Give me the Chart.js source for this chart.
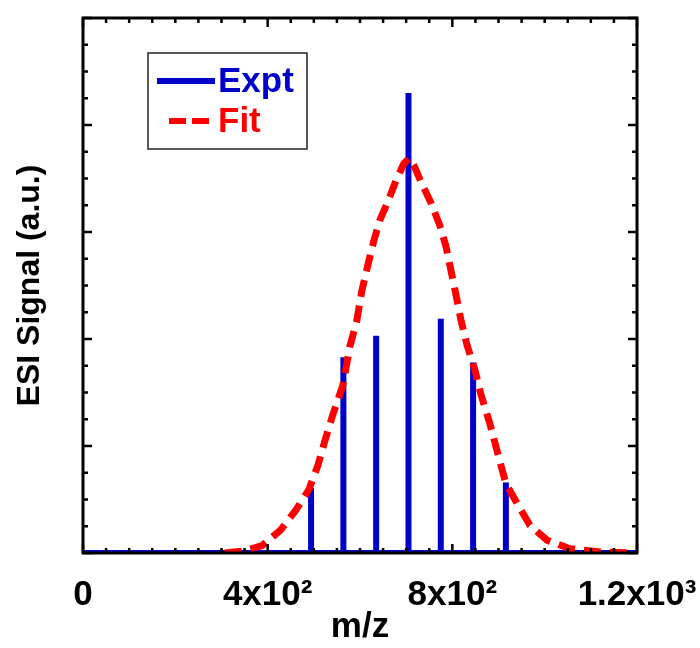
<!DOCTYPE html>
<html>
<head>
<meta charset="utf-8">
<script src="https://cdn.jsdelivr.net/npm/chart.js@4"></script>
<style>
  body { margin: 0; background: #fff; }
</style>
</head>
<body>
<canvas id="esiChart" width="700" height="648"></canvas>
<script>
// stems of the measured spectrum (m/z, signal)
const exptMz = [494, 564, 635, 705, 775, 845, 916];
const exptSignal = [0.61, 1.83, 2.03, 4.30, 2.19, 1.78, 0.66];

// fitted envelope
const fitMz = [307, 351, 388, 427, 461, 489, 509, 524, 541, 563, 578, 593, 604, 617, 630, 643, 661, 678, 695, 706,
               717, 734, 754, 773, 786, 797, 808, 819, 832, 849, 862, 882, 899, 916, 942, 968, 1005, 1055, 1120, 1200];
const fitSignal = [0, 0.02, 0.07, 0.21, 0.40, 0.59, 0.82, 1.05, 1.29, 1.57, 1.93, 2.17, 2.45, 2.69, 2.92, 3.11, 3.29, 3.48, 3.64, 3.69,
                   3.62, 3.45, 3.27, 3.06, 2.87, 2.64, 2.41, 2.17, 1.94, 1.71, 1.48, 1.20, 0.92, 0.65, 0.45, 0.26, 0.12, 0.04, 0.01, 0];

// axis range and ticks
const xMin = 0, xMax = 1200, xMinorStep = 50, xMajorStep = 400;
const yMin = 0, yMax = 5, yMinorStep = 0.25, yMajorStep = 1;
const xTickValues = [0, 400, 800, 1200];
const xTickLabels = ['0', '4x10\u00B2', '8x10\u00B2', '1.2x10\u00B3'];

const BLUE = '#0000cc';
const RED = '#ff0000';
const FONT = '"Liberation Sans", Arial, sans-serif';

// expt spectrum as a line: flat baseline with vertical spikes
const exptPoints = [{ x: xMin, y: 0 }];
exptMz.forEach((mz, i) => {
    exptPoints.push({ x: mz, y: 0 }, { x: mz, y: exptSignal[i] }, { x: mz, y: 0 });
});
exptPoints.push({ x: xMax, y: 0 });

const fitPoints = fitMz.map((mz, i) => ({ x: mz, y: fitSignal[i] }));

// frame + inward ticks on all four sides
const frameTicks = {
    id: 'frameTicks',
    afterDraw(chart) {
        const { ctx, chartArea: a, scales: { x, y } } = chart;
        ctx.save();
        ctx.strokeStyle = '#000';
        ctx.lineWidth = 2.5;
        ctx.beginPath();
        x.ticks.forEach(t => {
            const px = x.getPixelForValue(t.value);
            const len = t.value % xMajorStep === 0 ? 9 : 5;
            ctx.moveTo(px, a.bottom); ctx.lineTo(px, a.bottom - len);
            ctx.moveTo(px, a.top); ctx.lineTo(px, a.top + len);
        });
        y.ticks.forEach(t => {
            const py = y.getPixelForValue(t.value);
            const len = Math.abs(t.value / yMajorStep - Math.round(t.value / yMajorStep)) < 1e-6 ? 9 : 5;
            ctx.moveTo(a.left, py); ctx.lineTo(a.left + len, py);
            ctx.moveTo(a.right, py); ctx.lineTo(a.right - len, py);
        });
        ctx.stroke();
        ctx.lineWidth = 3;
        ctx.strokeRect(a.left, a.top, a.right - a.left, a.bottom - a.top);
        ctx.restore();
    }
};

// boxed legend in the upper left corner
const boxLegend = {
    id: 'boxLegend',
    afterDraw(chart) {
        const ctx = chart.ctx;
        const ds = chart.data.datasets;
        ctx.save();
        ctx.fillStyle = '#fff';
        ctx.fillRect(148, 53, 159, 96);
        ctx.strokeStyle = '#222';
        ctx.lineWidth = 1.5;
        ctx.strokeRect(148, 53, 159, 96);
        const rows = [ds[1], ds[0]];
        rows.forEach((d, i) => {
            const yy = 81 + i * 40;
            ctx.strokeStyle = d.borderColor;
            ctx.lineWidth = 6;
            ctx.setLineDash(d.borderDash ? [17, 6] : []);
            ctx.beginPath();
            ctx.moveTo(d.borderDash ? 169 : 157, yy);
            ctx.lineTo(d.borderDash ? 212 : 215, yy);
            ctx.stroke();
            ctx.setLineDash([]);
            ctx.fillStyle = d.borderColor;
            ctx.font = 'bold 35px ' + FONT;
            ctx.textBaseline = 'middle';
            ctx.fillText(d.label, 218, yy + 1);
        });
        ctx.restore();
    }
};

new Chart(document.getElementById('esiChart'), {
    type: 'line',
    data: {
        datasets: [
            {
                label: 'Fit',
                data: fitPoints,
                borderColor: RED,
                borderWidth: 7,
                borderDash: [17, 9],
                borderCapStyle: 'butt',
                pointRadius: 0,
                fill: false,
                tension: 0,
                order: 0
            },
            {
                label: 'Expt',
                data: exptPoints,
                borderColor: BLUE,
                borderWidth: 6,
                borderJoinStyle: 'bevel',
                pointRadius: 0,
                fill: false,
                tension: 0,
                order: 1
            }
        ]
    },
    options: {
        responsive: false,
        animation: false,
        layout: { padding: { top: 18, right: 63, left: 0, bottom: 0 } },
        plugins: {
            legend: { display: false },
            tooltip: { enabled: false }
        },
        scales: {
            x: {
                type: 'linear',
                min: xMin,
                max: xMax,
                grid: { display: false, drawTicks: false },
                border: { display: false },
                ticks: {
                    stepSize: xMinorStep,
                    autoSkip: false,
                    maxRotation: 0,
                    padding: 21,
                    color: '#000',
                    font: { family: FONT, size: 35, weight: 'bold' },
                    callback: v => {
                        const i = xTickValues.indexOf(v);
                        return i >= 0 ? xTickLabels[i] : '';
                    }
                },
                title: {
                    display: true,
                    text: 'm/z',
                    color: '#000',
                    padding: 0,
                    font: { family: FONT, size: 35, weight: 'bold' }
                },
                afterFit: s => {
                    s.height = 95;
                    s.paddingLeft = 0;
                    s.paddingRight = 0;
                }
            },
            y: {
                min: yMin,
                max: yMax,
                grid: { display: false, drawTicks: false },
                border: { display: false },
                ticks: { display: false, stepSize: yMinorStep },
                title: {
                    display: true,
                    text: 'ESI Signal (a.u.)',
                    color: '#000',
                    padding: { top: 11, bottom: 0 },
                    font: { family: FONT, size: 32, weight: 'bold' }
                },
                afterFit: s => { s.width = 83; }
            }
        }
    },
    plugins: [frameTicks, boxLegend]
});
</script>
</body>
</html>
